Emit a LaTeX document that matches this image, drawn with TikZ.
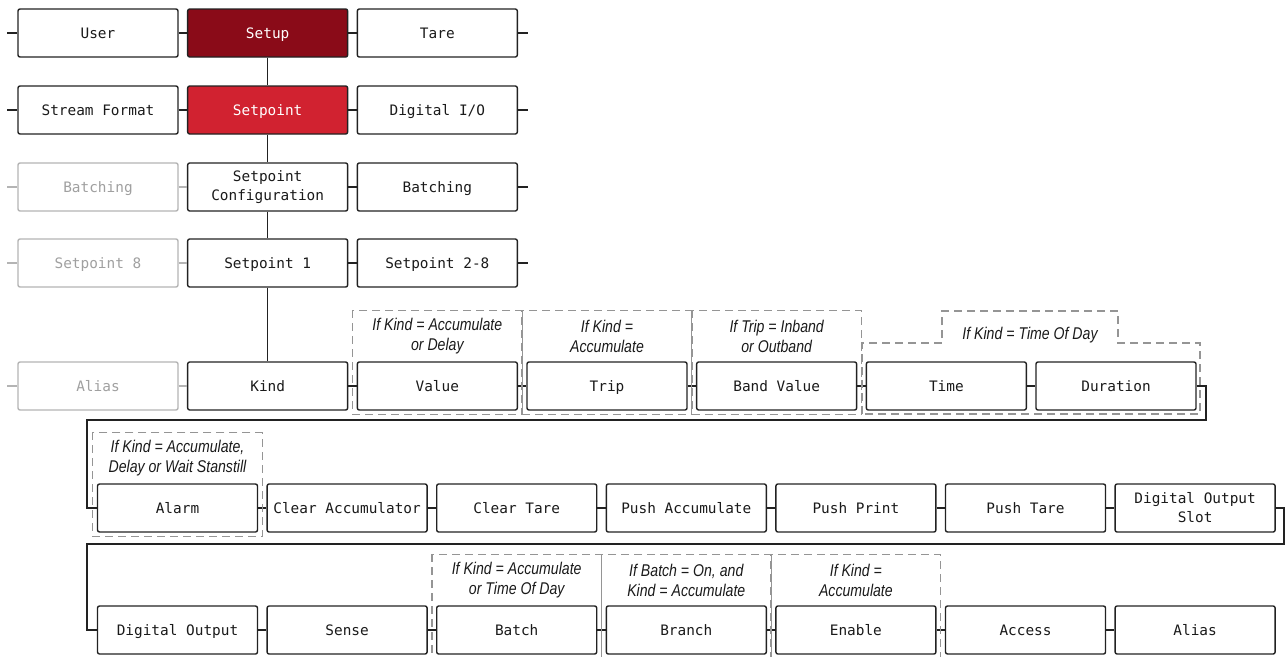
\documentclass[tikz,border=0pt]{standalone}
\usepackage{fontspec}
\setmonofont{DejaVu Sans Mono}
\newfontfamily\condfont[FakeStretch=0.83]{Liberation Sans}
\usetikzlibrary{calc}
\definecolor{boxline}{HTML}{222222}
\definecolor{textdark}{HTML}{1A1A1A}
\definecolor{greyline}{HTML}{B4B4B4}
\definecolor{greytext}{HTML}{A0A0A0}
\definecolor{dashgrey}{HTML}{959595}
\definecolor{setupred}{HTML}{8A0B18}
\definecolor{sppink}{HTML}{D12230}
\tikzset{
  basebox/.style={draw=boxline, line width=1.4pt, rounded corners=2pt, minimum width=160pt, minimum height=48pt, inner sep=0pt, align=center, font=\ttfamily\fontsize{14.4}{19}\selectfont, text=textdark, fill=white},
  menubox/.style={basebox, text height=10.5pt, text depth=0.5pt},
  greybox/.style={menubox, draw=greyline, text=greytext},
  setupbox/.style={menubox, fill=setupred, text=white},
  spbox/.style={menubox, fill=sppink, text=white},
  conn/.style={draw=boxline, line width=1.4pt},
  greyconn/.style={draw=greyline, line width=1.4pt},
  cond/.style={draw=dashgrey, line width=1.1pt, dash pattern=on 8pt off 5pt},
  condtext/.style={font=\condfont\itshape\fontsize{17}{19.5}\selectfont, text=textdark, align=center, inner sep=0pt},
}
\begin{document}
\begin{tikzpicture}[x=1pt,y=-1pt]
\useasboundingbox (0,0) rectangle (1285,656);
% row 1
\node[menubox]  (user)  at (98,33) {User};
\node[setupbox] (setup) at (267.67,33) {Setup};
\node[menubox]  (tare)  at (437.33,33) {Tare};
% row 2
\node[menubox] (stream)   at (98,110) {Stream Format};
\node[spbox]   (setpoint) at (267.67,110) {Setpoint};
\node[menubox] (dio)      at (437.33,110) {Digital I/O};
% row 3
\node[greybox] (batchL) at (98,187) {Batching};
\node[basebox] (spconf) at (267.67,187) {Setpoint\\Configuration};
\node[menubox] (batchR) at (437.33,187) {Batching};
% row 4
\node[greybox] (sp8)  at (98,263) {Setpoint 8};
\node[menubox] (sp1)  at (267.67,263) {Setpoint 1};
\node[menubox] (sp28) at (437.33,263) {Setpoint 2-8};
% row 5
\node[greybox] (aliasL)   at (98,386) {Alias};
\node[menubox] (kind)     at (267.67,386) {Kind};
\node[menubox] (value)    at (437.33,386) {Value};
\node[menubox] (trip)     at (607,386) {Trip};
\node[menubox] (band)     at (776.67,386) {Band Value};
\node[menubox] (time)     at (946.33,386) {Time};
\node[menubox] (duration) at (1116,386) {Duration};
% row 6
\node[menubox] (alarm)     at (177.5,508) {Alarm};
\node[menubox] (clracc)    at (347.1,508) {Clear Accumulator};
\node[menubox] (clrtare)   at (516.7,508) {Clear Tare};
\node[menubox] (pushacc)   at (686.3,508) {Push Accumulate};
\node[menubox] (pushprint) at (855.9,508) {Push Print};
\node[menubox] (pushtare)  at (1025.5,508) {Push Tare};
\node[basebox] (doslot)    at (1195.1,508) {Digital Output\\Slot};
% row 7
\node[menubox] (dout)   at (177.5,630) {Digital Output};
\node[menubox] (sense)  at (347.1,630) {Sense};
\node[menubox] (batch)  at (516.7,630) {Batch};
\node[menubox] (branch) at (686.3,630) {Branch};
\node[menubox] (enable) at (855.9,630) {Enable};
\node[menubox] (access) at (1025.5,630) {Access};
\node[menubox] (alias)  at (1195.1,630) {Alias};

% horizontal connectors rows 1-4
\draw[conn] (user.west) -- ++(-10,0);
\draw[conn] (user) -- (setup);
\draw[conn] (setup) -- (tare);
\draw[conn] (tare.east) -- ++(10,0);
\draw[conn] (stream.west) -- ++(-10,0);
\draw[conn] (stream) -- (setpoint);
\draw[conn] (setpoint) -- (dio);
\draw[conn] (dio.east) -- ++(10,0);
\draw[greyconn] (batchL.west) -- ++(-10,0);
\draw[greyconn] (batchL) -- (spconf);
\draw[conn] (spconf) -- (batchR);
\draw[conn] (batchR.east) -- ++(10,0);
\draw[greyconn] (sp8.west) -- ++(-10,0);
\draw[greyconn] (sp8) -- (sp1);
\draw[conn] (sp1) -- (sp28);
\draw[conn] (sp28.east) -- ++(10,0);
% vertical chain
\draw[conn] (setup) -- (setpoint);
\draw[conn] (setpoint) -- (spconf);
\draw[conn] (spconf) -- (sp1);
\draw[conn] (sp1) -- (kind);
% row 5
\draw[greyconn] (aliasL.west) -- ++(-10,0);
\draw[greyconn] (aliasL) -- (kind);
\draw[conn] (kind) -- (value);
\draw[conn] (value) -- (trip);
\draw[conn] (trip) -- (band);
\draw[conn] (band) -- (time);
\draw[conn] (time) -- (duration);
% loop 1
\coordinate (l1a) at (1206,420);
\coordinate (l1b) at (87,420);
\draw[conn] (duration.east) -| (l1a) -- (l1b) |- (alarm.west);
% row 6
\draw[conn] (alarm) -- (clracc);
\draw[conn] (clracc) -- (clrtare);
\draw[conn] (clrtare) -- (pushacc);
\draw[conn] (pushacc) -- (pushprint);
\draw[conn] (pushprint) -- (pushtare);
\draw[conn] (pushtare) -- (doslot);
% loop 2
\coordinate (l2a) at (1284,544);
\coordinate (l2b) at (87,544);
\draw[conn] (doslot.east) -| (l2a) -- (l2b) |- (dout.west);
% row 7
\draw[conn] (dout) -- (sense);
\draw[conn] (sense) -- (batch);
\draw[conn] (batch) -- (branch);
\draw[conn] (branch) -- (enable);
\draw[conn] (enable) -- (access);
\draw[conn] (access) -- (alias);

% condition boxes
\draw[cond] ($(value.north west)+(-4,-51)$) rectangle ($(value.south east)+(4,4)$);
\node[condtext] (cvalue) at ($(value.north)+(0,-25)$) {If Kind = Accumulate\\or Delay};
\draw[cond] ($(trip.north west)+(-4,-51)$) rectangle ($(trip.south east)+(4,4)$);
\node[condtext] (ctrip) at ($(trip.north)+(0,-25)$) {If Kind =\\Accumulate};
\draw[cond] ($(band.north west)+(-4,-51)$) rectangle ($(band.south east)+(4,4)$);
\node[condtext] (cband) at ($(band.north)+(0,-25)$) {If Trip = Inband\\or Outband};
\draw[cond] (862,414) -- (862,343) -- (942,343) -- (942,311) -- (1118,311) -- (1118,343) -- (1200,343) -- (1200,414) -- cycle;
\node[condtext] (ctime) at (1030,335) {If Kind = Time Of Day};
\draw[cond] ($(alarm.north west)+(-4,-51)$) rectangle ($(alarm.south east)+(4,4)$);
\node[condtext] (calarm) at ($(alarm.north)+(0,-25)$) {If Kind = Accumulate,\\Delay or Wait Stanstill};
\draw[cond] ($(batch.north west)+(-4,-51)$) rectangle ($(batch.south east)+(4,4)$);
\node[condtext] (cbatch) at ($(batch.north)+(0,-25)$) {If Kind = Accumulate\\or Time Of Day};
\draw[cond] ($(branch.north west)+(-4,-51)$) rectangle ($(branch.south east)+(4,4)$);
\node[condtext] (cbranch) at ($(branch.north)+(0,-25)$) {If Batch = On, and\\Kind = Accumulate};
\draw[cond] ($(enable.north west)+(-4,-51)$) rectangle ($(enable.south east)+(4,4)$);
\node[condtext] (cenable) at ($(enable.north)+(0,-25)$) {If Kind =\\Accumulate};
\end{tikzpicture}
\end{document}
